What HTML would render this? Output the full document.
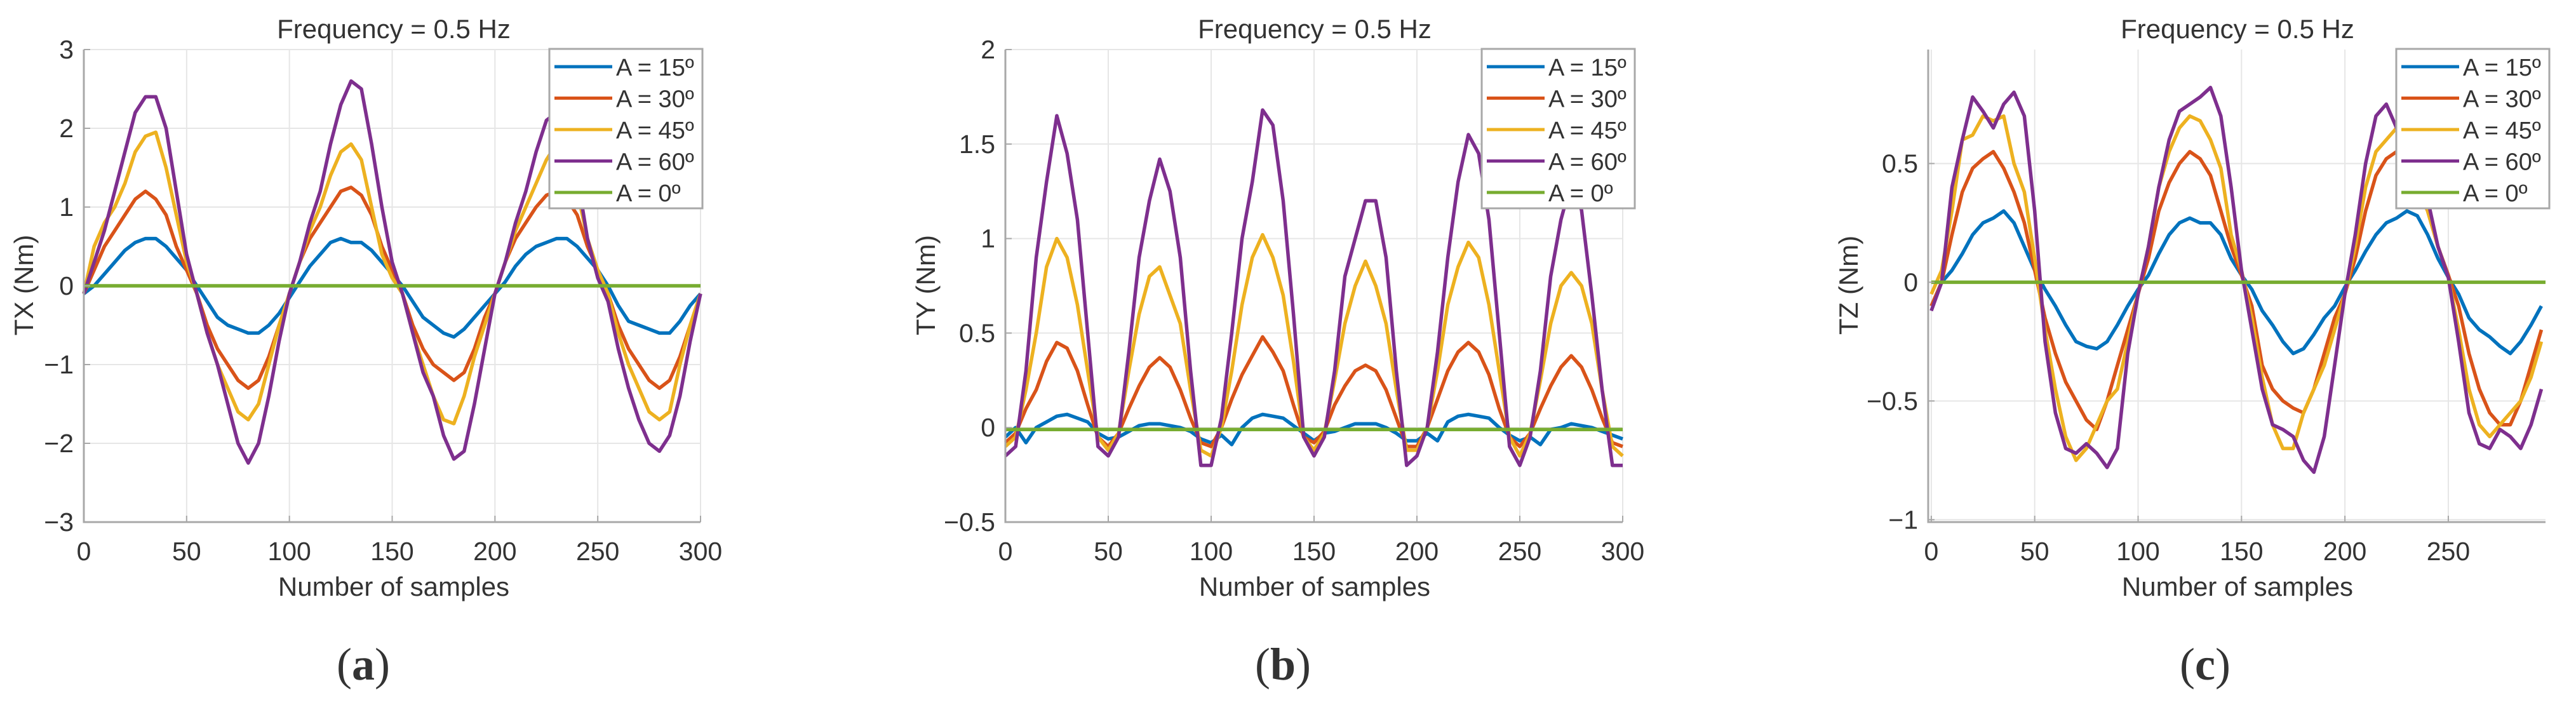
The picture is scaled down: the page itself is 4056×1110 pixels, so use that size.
<!DOCTYPE html>
<html><head><meta charset="utf-8"><style>
html,body{margin:0;padding:0;background:#fff;}
svg{display:block;}
text{font-family:"Liberation Sans",Arial,sans-serif;fill:#333;}
</style></head><body>
<svg id="fig" width="4056" height="1110" viewBox="0 0 4056 1110" xmlns="http://www.w3.org/2000/svg"></svg>
<script>
const samples=[0,5,10,15,20,25,30,35,40,45,50,55,60,65,70,75,80,85,90,95,100,105,110,115,120,125,130,135,140,145,150,155,160,165,170,175,180,185,190,195,200,205,210,215,220,225,230,235,240,245,250,255,260,265,270,275,280,285,290,295,300];
const samplesC=samples.slice(0,60);
const legendLabels=["A = 15º","A = 30º","A = 45º","A = 60º","A = 0º"];
const xTicks=[0,50,100,150,200,250,300];
const xTicksC=[0,50,100,150,200,250];
const yTicksA=[-3,-2,-1,0,1,2,3];
const yTicksB=[-0.5,0,0.5,1,1.5,2];
const yTicksC=[-1,-0.5,0,0.5];
const zeroX=[0,300];const zeroXC=[0,297];
// Panel a (TX)
const txA15=[-0.1,0,0.15,0.3,0.45,0.55,0.6,0.6,0.5,0.35,0.2,0,-0.2,-0.4,-0.5,-0.55,-0.6,-0.6,-0.5,-0.35,-0.15,0.05,0.25,0.4,0.55,0.6,0.55,0.55,0.45,0.3,0.15,0,-0.2,-0.4,-0.5,-0.6,-0.65,-0.55,-0.4,-0.25,-0.1,0.05,0.25,0.4,0.5,0.55,0.6,0.6,0.5,0.35,0.2,0,-0.25,-0.45,-0.5,-0.55,-0.6,-0.6,-0.45,-0.25,-0.1];
const txA30=[-0.1,0.2,0.5,0.7,0.9,1.1,1.2,1.1,0.9,0.5,0.2,-0.1,-0.5,-0.8,-1.0,-1.2,-1.3,-1.2,-0.9,-0.5,-0.1,0.3,0.6,0.8,1.0,1.2,1.25,1.15,0.9,0.5,0.2,-0.1,-0.5,-0.8,-1.0,-1.1,-1.2,-1.1,-0.8,-0.4,-0.1,0.3,0.6,0.8,1.0,1.15,1.2,1.1,0.9,0.5,0.2,-0.1,-0.5,-0.8,-1.0,-1.2,-1.3,-1.2,-0.9,-0.5,-0.1];
const txA45=[-0.1,0.5,0.8,1.0,1.3,1.7,1.9,1.95,1.5,0.9,0.3,-0.1,-0.6,-1.0,-1.3,-1.6,-1.7,-1.5,-1.0,-0.5,-0.1,0.3,0.7,1.0,1.4,1.7,1.8,1.6,1.0,0.4,0.1,-0.1,-0.6,-1.0,-1.4,-1.7,-1.75,-1.4,-0.9,-0.5,-0.1,0.3,0.7,1.0,1.3,1.6,1.8,1.7,1.2,0.6,0.2,-0.1,-0.6,-1.0,-1.3,-1.6,-1.7,-1.6,-1.0,-0.5,-0.1];
const txA60=[-0.1,0.3,0.7,1.2,1.7,2.2,2.4,2.4,2.0,1.2,0.4,-0.1,-0.6,-1.0,-1.5,-2.0,-2.25,-2.0,-1.4,-0.7,-0.1,0.3,0.8,1.2,1.8,2.3,2.6,2.5,1.8,1.0,0.3,-0.1,-0.6,-1.1,-1.4,-1.9,-2.2,-2.1,-1.5,-0.8,-0.1,0.3,0.8,1.2,1.7,2.1,2.2,1.9,1.4,0.6,0.1,-0.2,-0.8,-1.3,-1.7,-2.0,-2.1,-1.9,-1.4,-0.7,-0.1];
const txA0=[0,0];
// Panel b (TY)
const tyA15=[-0.05,0,-0.08,0,0.03,0.06,0.07,0.05,0.03,-0.03,-0.06,-0.05,-0.02,0.01,0.02,0.02,0.01,0,-0.02,-0.06,-0.08,-0.04,-0.09,0,0.05,0.07,0.06,0.05,0.01,-0.03,-0.07,-0.03,-0.02,0,0.02,0.02,0.02,0,-0.03,-0.07,-0.07,-0.03,-0.07,0.03,0.06,0.07,0.06,0.05,0,-0.04,-0.07,-0.05,-0.09,-0.01,0,0.02,0.01,0,-0.02,-0.04,-0.06];
const tyA30=[-0.08,-0.03,0.1,0.2,0.35,0.45,0.42,0.3,0.12,-0.05,-0.1,-0.03,0.1,0.22,0.32,0.37,0.32,0.2,0.05,-0.08,-0.1,0,0.15,0.28,0.38,0.48,0.4,0.3,0.12,-0.05,-0.08,-0.02,0.12,0.22,0.3,0.33,0.3,0.2,0.05,-0.1,-0.1,0,0.15,0.3,0.4,0.45,0.4,0.28,0.1,-0.05,-0.1,-0.03,0.1,0.22,0.32,0.38,0.32,0.2,0.05,-0.08,-0.1];
const tyA45=[-0.1,-0.05,0.2,0.5,0.85,1.0,0.9,0.65,0.3,-0.05,-0.12,-0.03,0.3,0.6,0.8,0.85,0.7,0.55,0.2,-0.12,-0.15,0,0.3,0.65,0.9,1.02,0.9,0.7,0.35,-0.05,-0.12,-0.03,0.25,0.55,0.75,0.88,0.75,0.55,0.2,-0.12,-0.12,0,0.3,0.65,0.85,0.98,0.9,0.65,0.3,-0.05,-0.15,-0.03,0.25,0.55,0.75,0.82,0.75,0.55,0.2,-0.1,-0.15];
const tyA60=[-0.15,-0.1,0.3,0.9,1.3,1.65,1.45,1.1,0.5,-0.1,-0.15,-0.05,0.4,0.9,1.2,1.42,1.25,0.9,0.3,-0.2,-0.2,0.05,0.5,1.0,1.3,1.68,1.6,1.2,0.6,-0.05,-0.15,-0.05,0.3,0.8,1.0,1.2,1.2,0.9,0.3,-0.2,-0.15,0,0.4,0.9,1.3,1.55,1.45,1.1,0.5,-0.1,-0.2,-0.05,0.3,0.8,1.1,1.3,1.15,0.7,0.2,-0.2,-0.2];
const tyA0=[-0.01,-0.01];
// Panel c (TZ)
const tzA15=[-0.1,0,0.05,0.12,0.2,0.25,0.27,0.3,0.25,0.15,0.05,-0.03,-0.1,-0.18,-0.25,-0.27,-0.28,-0.25,-0.18,-0.1,-0.03,0.03,0.12,0.2,0.25,0.27,0.25,0.25,0.2,0.1,0.03,-0.03,-0.12,-0.18,-0.25,-0.3,-0.28,-0.22,-0.15,-0.1,-0.02,0.05,0.13,0.2,0.25,0.27,0.3,0.28,0.2,0.1,0.02,-0.05,-0.15,-0.2,-0.23,-0.27,-0.3,-0.25,-0.18,-0.1];
const tzA30=[-0.1,0,0.2,0.38,0.48,0.52,0.55,0.48,0.38,0.25,0.05,-0.15,-0.3,-0.42,-0.5,-0.58,-0.62,-0.5,-0.35,-0.2,-0.05,0.1,0.3,0.42,0.5,0.55,0.52,0.45,0.3,0.15,0.03,-0.1,-0.35,-0.45,-0.5,-0.53,-0.55,-0.45,-0.3,-0.15,-0.05,0.1,0.3,0.45,0.52,0.55,0.52,0.4,0.3,0.15,0.03,-0.1,-0.3,-0.45,-0.55,-0.6,-0.6,-0.5,-0.35,-0.2];
const tzA45=[-0.05,0.05,0.3,0.6,0.62,0.7,0.68,0.7,0.5,0.38,0.1,-0.2,-0.45,-0.65,-0.75,-0.7,-0.6,-0.5,-0.45,-0.25,-0.05,0.15,0.4,0.55,0.65,0.7,0.68,0.6,0.48,0.2,0.05,-0.15,-0.4,-0.6,-0.7,-0.7,-0.55,-0.45,-0.35,-0.2,-0.05,0.15,0.4,0.55,0.6,0.65,0.6,0.45,0.3,0.15,0.02,-0.2,-0.45,-0.6,-0.65,-0.6,-0.55,-0.5,-0.4,-0.25];
const tzA60=[-0.12,0,0.4,0.6,0.78,0.72,0.65,0.75,0.8,0.7,0.3,-0.25,-0.55,-0.7,-0.72,-0.68,-0.72,-0.78,-0.7,-0.3,-0.05,0.15,0.4,0.6,0.72,0.75,0.78,0.82,0.7,0.4,0.05,-0.2,-0.45,-0.6,-0.62,-0.65,-0.75,-0.8,-0.65,-0.35,-0.05,0.2,0.5,0.7,0.75,0.65,0.5,0.4,0.35,0.15,0.02,-0.25,-0.55,-0.68,-0.7,-0.62,-0.65,-0.7,-0.6,-0.45];
const tzA0=[0,0];

const colors=["#0072BD","#D95319","#EDB120","#7E2F8E","#77AC30"];
const NS="http://www.w3.org/2000/svg";
const svg=document.getElementById('fig');
function mk(tag,attrs,parent,txt){const e=document.createElementNS(NS,tag);for(const k in attrs)e.setAttribute(k,attrs[k]);if(txt!==undefined)e.textContent=txt;(parent||svg).appendChild(e);return e;}
function fmt(v){return (v<0?"\u2212":"")+Math.abs(v);}
function panel(p){
  const g=mk('g',{});
  
  
  const sx=v=>p.L+(v-p.xmin)/(p.xmax-p.xmin)*(p.R-p.L);
  const sy=v=>p.B-(v-p.ymin)/(p.ymax-p.ymin)*(p.B-p.T);
  p.xt.forEach(t=>{const l=mk('line',{x1:sx(t),x2:sx(t),y1:p.T,y2:p.B,stroke:'#e6e6e6','stroke-width':2},g);
    });
  p.yt.forEach(t=>{const l=mk('line',{x1:p.L,x2:p.R,y1:sy(t),y2:sy(t),stroke:'#e6e6e6','stroke-width':2},g);
    });
  [0,1,2,3,4].forEach(i=>{const xs=p.xs[i],ys=p.ys[i];let d='';
    ys.forEach((v,j)=>{d+=(j?'L':'M')+sx(xs[j]).toFixed(1)+' '+sy(v).toFixed(1);});
    const pa=mk('path',{d:d,fill:'none',stroke:colors[i],'stroke-width':5.5,'stroke-linejoin':'round'},g);
    
    });
  const ax=mk('path',{d:`M${p.L} ${p.T}L${p.L} ${p.B}L${p.R} ${p.B}`,fill:'none',stroke:'#a8a8a8','stroke-width':3},g);
  
  p.xt.forEach(t=>{const e=mk('text',{x:sx(t),y:p.B+60,'font-size':41,'text-anchor':'middle'},g,fmt(t));
    
    mk('line',{x1:sx(t),x2:sx(t),y1:p.B,y2:p.B-10,stroke:'#a8a8a8','stroke-width':2},g);});
  p.yt.forEach(t=>{const e=mk('text',{x:p.L-16,y:sy(t)+14,'font-size':41,'text-anchor':'end'},g,fmt(t));
    
    mk('line',{x1:p.L,x2:p.L+10,y1:sy(t),y2:sy(t),stroke:'#a8a8a8','stroke-width':2},g);});
  const ti=mk('text',{x:p.tx,y:60,'font-size':42,'text-anchor':'middle'},g,'Frequency = 0.5 Hz');
  
  const xl=mk('text',{x:p.tx,y:938,'font-size':42,'text-anchor':'middle'},g,'Number of samples');
  
  const yl=mk('text',{x:p.ylx,y:449,'font-size':42,'text-anchor':'middle',transform:`rotate(-90 ${p.ylx} 449)`},g,p.ylabel);
  
  const lg=mk('g',{},g);
  
  mk('rect',{x:p.lx,y:77,width:241,height:251,fill:'#fff',stroke:'#a8a8a8','stroke-width':3},lg);
  legendLabels.forEach((lab,i)=>{const y=105+i*49.5;
    const le=mk('g',{},lg);
    
    mk('line',{x1:p.lx+8,x2:p.lx+99,y1:y,y2:y,stroke:colors[i],'stroke-width':5},le);
    mk('text',{x:p.lx+105,y:y+14,'font-size':38},le,lab);});
  const cap=mk('text',{x:p.cx,y:1070,'font-size':72,'text-anchor':'middle'},g);
  
  cap.style.fontFamily='"Liberation Serif",serif';
  mk('tspan',{},cap,'(');mk('tspan',{'font-weight':'bold'},cap,p.id);mk('tspan',{},cap,')');
}
panel({id:'a',L:132,R:1103,T:78,B:822,xmin:0,xmax:300,ymin:-3,ymax:3,xt:xTicks,yt:yTicksA,tx:620,ylx:52,ylabel:'TX (Nm)',lx:865,cx:572,
  xs:[samples,samples,samples,samples,zeroX],ys:[txA15,txA30,txA45,txA60,txA0]});
panel({id:'b',L:1583,R:2555,T:78,B:822,xmin:0,xmax:300,ymin:-0.5,ymax:2,xt:xTicks,yt:yTicksB,tx:2070,ylx:1472,ylabel:'TY (Nm)',lx:2333,cx:2020,
  xs:[samples,samples,samples,samples,zeroX],ys:[tyA15,tyA30,tyA45,tyA60,tyA0]});
panel({id:'c',L:3036,R:4008,T:78,B:822,xmin:-1.5,xmax:297,ymin:-1.01,ymax:0.98,xt:xTicksC,yt:yTicksC,tx:3523,ylx:2925,ylabel:'TZ (Nm)',lx:3773,cx:3472,
  xs:[samplesC,samplesC,samplesC,samplesC,zeroXC],ys:[tzA15,tzA30,tzA45,tzA60,tzA0]});
</script>
</body></html>
